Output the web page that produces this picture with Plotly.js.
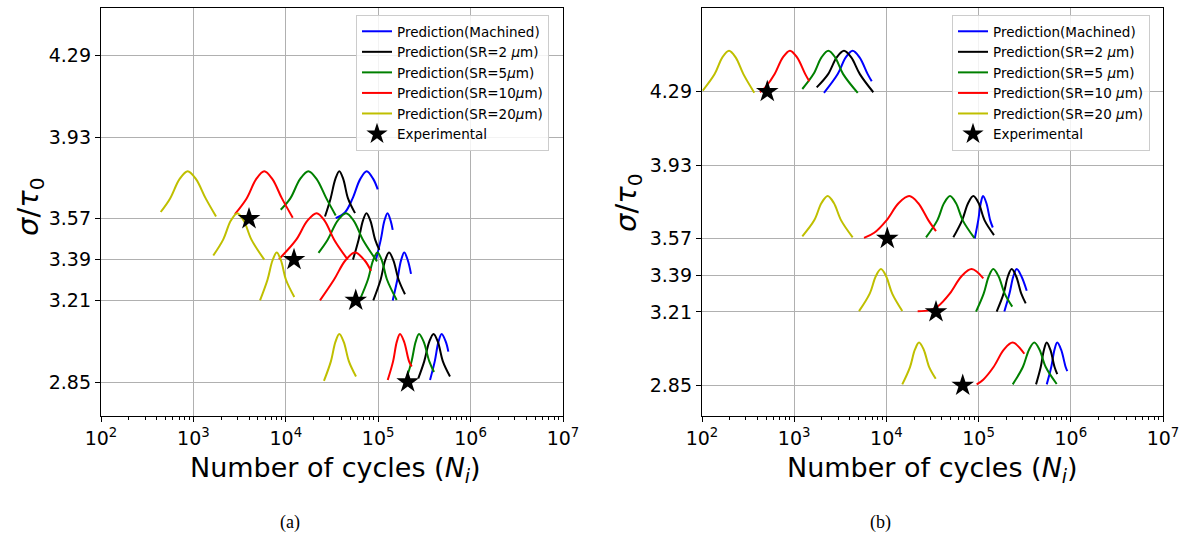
<!DOCTYPE html>
<html>
<head>
<meta charset="utf-8">
<script src="https://cdn.plot.ly/plotly-3.0.1.min.js"></script>
<style>
html,body{margin:0;padding:0;background:#ffffff;}
#chart{width:1186px;height:534px;}
</style>
</head>
<body>
<div id="chart"></div>
<script>
// ---------- DATA (x values stored as log10 of number of cycles, y = sigma/tau0) ----------
const yTickVals = [2.85, 3.21, 3.39, 3.57, 3.93, 4.29];
const yTickText = ['2.85', '3.21', '3.39', '3.57', '3.93', '4.29'];
const xTickVals = [1e2, 1e3, 1e4, 1e5, 1e6, 1e7];
const xTickText = ['10<sup>2</sup>', '10<sup>3</sup>', '10<sup>4</sup>', '10<sup>5</sup>', '10<sup>6</sup>', '10<sup>7</sup>'];

const seriesColors = ['#0000ff', '#000000', '#008000', '#ff0000', '#bfbf00'];
const namesA = ['Prediction(Machined)', 'Prediction(SR=2 <i>μ</i>m)', 'Prediction(SR=5<i>μ</i>m)', 'Prediction(SR=10<i>μ</i>m)', 'Prediction(SR=20<i>μ</i>m)'];
const namesB = ['Prediction(Machined)', 'Prediction(SR=2 <i>μ</i>m)', 'Prediction(SR=5 <i>μ</i>m)', 'Prediction(SR=10 <i>μ</i>m)', 'Prediction(SR=20 <i>μ</i>m)'];

// Panel (a)
const a_machined_log10N = [4.540,4.640,4.723,4.805,4.876,4.947,4.995,null, 4.976,5.028,5.067,5.101,5.135,5.157,null, 5.157,5.207,5.247,5.282,5.321,5.355,null, 5.561,5.612,5.652,5.687,5.732,5.759];
const a_machined_ratio  = [3.573,3.598,3.660,3.745,3.780,3.745,3.700,null, 3.390,3.478,3.561,3.595,3.561,3.521,null, 3.210,3.301,3.386,3.421,3.386,3.327,null, 2.859,2.941,3.027,3.062,3.027,2.984];

const a_sr2_log10N = [4.424,4.485,4.536,4.579,4.622,4.673,4.749,null, 4.727,4.788,4.834,4.873,4.916,4.967,5.012,null, 4.947,5.026,5.075,5.117,5.165,5.221,5.290,null, 5.434,5.498,5.552,5.599,5.646,5.700,5.777];
const a_sr2_ratio  = [3.580,3.660,3.745,3.780,3.745,3.660,3.595,null, 3.390,3.478,3.561,3.595,3.561,3.478,3.433,null, 3.210,3.301,3.386,3.421,3.386,3.301,3.237,null, 2.866,2.941,3.027,3.062,3.027,2.941,2.874];

const a_sr5_log10N = [3.945,4.049,4.154,4.244,4.334,4.439,4.540,null, 4.354,4.453,4.560,4.652,4.736,4.834,4.987,null, 4.798,4.888,4.944,4.992,5.040,5.096,5.200,null, 5.301,5.361,5.405,5.442,5.493,5.553,5.604];
const a_sr5_ratio  = [3.610,3.660,3.745,3.780,3.745,3.660,3.585,null, 3.420,3.478,3.561,3.595,3.561,3.478,3.382,null, 3.210,3.301,3.386,3.421,3.386,3.301,3.212,null, 2.859,2.941,3.027,3.062,3.027,2.941,2.894];

const a_sr10_log10N = [3.450,3.576,3.679,3.767,3.855,3.958,4.075,null, 3.926,4.113,4.232,4.334,4.421,4.523,4.670,null, 4.370,4.521,4.644,4.749,4.854,4.922,null, 5.103,5.161,5.201,5.236,5.281,5.334,5.363];
const a_sr10_ratio  = [3.591,3.660,3.745,3.780,3.745,3.660,3.575,null, 3.392,3.478,3.561,3.595,3.561,3.478,3.390,null, 3.210,3.301,3.386,3.421,3.386,3.340,null, 2.859,2.941,3.027,3.062,3.027,2.941,2.918];

const a_sr20_log10N = [2.646,2.748,2.850,2.938,3.028,3.133,3.245,null, 3.215,3.322,3.404,3.475,3.546,3.628,3.767,null, 3.721,3.802,3.856,3.902,3.948,4.002,4.092,null, 4.413,4.488,4.537,4.579,4.627,4.683,4.760];
const a_sr20_ratio  = [3.600,3.660,3.745,3.780,3.745,3.660,3.580,null, 3.408,3.478,3.561,3.595,3.561,3.478,3.390,null, 3.210,3.301,3.386,3.421,3.386,3.301,3.225,null, 2.855,2.941,3.027,3.062,3.027,2.941,2.874];

const a_exp_log10N = [3.602, 4.089, 4.757, 5.319];
const a_exp_ratio  = [3.57, 3.39, 3.21, 2.85];

// Panel (b)
const b_machined_log10N = [3.323,3.472,3.559,3.634,3.709,3.797,3.841,null, 4.958,4.996,5.024,5.048,5.084,5.126,5.154,null, 5.279,5.335,5.377,5.413,5.464,5.522,null, 5.739,5.788,5.823,5.853,5.895,5.944,5.962];
const b_machined_ratio  = [4.284,4.376,4.458,4.491,4.458,4.376,4.341,null, 3.570,3.659,3.744,3.778,3.744,3.659,3.624,null, 3.212,3.300,3.385,3.420,3.385,3.314,null, 2.855,2.940,3.025,3.060,3.025,2.940,2.920];

const b_sr2_log10N = [3.244,3.368,3.461,3.540,3.619,3.712,3.858,null, 4.726,4.821,4.887,4.943,5.000,5.065,5.167,null, 5.196,5.271,5.318,5.359,5.407,5.463,5.511,null, 5.623,5.674,5.709,5.739,5.778,5.824,5.853];
const b_sr2_ratio  = [4.311,4.376,4.458,4.491,4.458,4.376,4.287,null, 3.576,3.659,3.744,3.778,3.744,3.659,3.587,null, 3.212,3.300,3.385,3.420,3.385,3.300,3.252,null, 2.855,2.940,3.025,3.060,3.025,2.940,2.905];

const b_sr5_log10N = [3.088,3.209,3.296,3.370,3.444,3.531,3.689,null, 4.430,4.552,4.626,4.690,4.754,4.828,4.953,null, 4.972,5.055,5.111,5.159,5.216,5.283,5.365,null, 5.370,5.480,5.547,5.604,5.661,5.728,5.847];
const b_sr5_ratio  = [4.303,4.376,4.458,4.491,4.458,4.376,4.284,null, 3.576,3.659,3.744,3.778,3.744,3.659,3.573,null, 3.212,3.300,3.385,3.420,3.385,3.300,3.236,null, 2.855,2.940,3.025,3.060,3.025,2.940,2.857];

const b_sr10_log10N = [2.629,2.698,2.788,2.877,2.954,3.031,3.120,3.164,null, 3.757,3.868,4.001,4.134,4.248,4.344,4.456,4.538,null, 4.339,4.467,4.559,4.687,4.815,4.925,5.051,null, 4.979,5.050,5.162,5.274,5.370,5.496];
const b_sr10_ratio  = [4.287,4.317,4.376,4.458,4.491,4.458,4.376,4.341,null, 3.573,3.598,3.659,3.744,3.778,3.744,3.659,3.606,null, 3.214,3.219,3.238,3.300,3.385,3.420,3.375,null, 2.855,2.878,2.940,3.025,3.060,3.005];

const b_sr20_log10N = [2.008,2.137,2.221,2.293,2.365,2.449,2.567,null, 3.088,3.217,3.296,3.363,3.430,3.509,3.634,null, 3.703,3.819,3.885,3.941,3.997,4.063,4.172,null, 4.172,4.256,4.309,4.354,4.405,4.464,4.535];
const b_sr20_ratio  = [4.295,4.376,4.458,4.491,4.458,4.376,4.285,null, 3.581,3.659,3.744,3.778,3.744,3.659,3.576,null, 3.214,3.300,3.385,3.420,3.385,3.300,3.215,null, 2.855,2.940,3.025,3.060,3.025,2.940,2.883];

const b_exp_log10N = [2.708, 4.010, 4.538, 4.828];
const b_exp_ratio  = [4.29, 3.57, 3.21, 2.85];

// ---------- BUILD ----------
const toCycles = arr => arr.map(v => v === null ? null : Math.pow(10, v));

const panelA = [[a_machined_log10N, a_machined_ratio], [a_sr2_log10N, a_sr2_ratio], [a_sr5_log10N, a_sr5_ratio], [a_sr10_log10N, a_sr10_ratio], [a_sr20_log10N, a_sr20_ratio]];
const panelB = [[b_machined_log10N, b_machined_ratio], [b_sr2_log10N, b_sr2_ratio], [b_sr5_log10N, b_sr5_ratio], [b_sr10_log10N, b_sr10_ratio], [b_sr20_log10N, b_sr20_ratio]];

const traces = [];
function addPanel(panel, names, expX, expY, xa, ya, leg) {
  panel.forEach((s, i) => {
    traces.push({
      type: 'scatter', mode: 'lines',
      x: toCycles(s[0]), y: s[1],
      xaxis: xa, yaxis: ya, legend: leg,
      name: names[i],
      line: {color: seriesColors[i], width: 2, shape: 'spline', smoothing: 1},
      connectgaps: false
    });
  });
  traces.push({
    type: 'scatter', mode: 'markers',
    x: toCycles(expX), y: expY,
    xaxis: xa, yaxis: ya, legend: leg,
    name: 'Experimental',
    marker: {symbol: 'star', size: 17, color: '#000000', line: {width: 0}}
  });
}
addPanel(panelA, namesA, a_exp_log10N, a_exp_ratio, 'x', 'y', 'legend');
addPanel(panelB, namesB, b_exp_log10N, b_exp_ratio, 'x2', 'y2', 'legend2');

const W = 1186, H = 534;
const yDom = [1 - 416 / H, 1 - 8 / H];

function xAxis(dom, anchor) {
  return {
    domain: dom, anchor: anchor, type: 'log', range: [2, 7],
    tickmode: 'array', tickvals: xTickVals, ticktext: xTickText,
    ticks: 'outside', ticklen: 5, tickwidth: 1, tickcolor: '#000',
    showgrid: true, gridcolor: '#b0b0b0', gridwidth: 1,
    showline: true, linecolor: '#000', linewidth: 1.2, mirror: true,
    zeroline: false,
    tickfont: {family: 'DejaVu Sans', size: 19, color: '#000'},
    minor: {dtick: 'D1', ticks: 'outside', ticklen: 3, tickwidth: 1, tickcolor: '#000', showgrid: false}
  };
}
function yAxis(range, anchor) {
  return {
    domain: yDom, anchor: anchor, range: range,
    tickmode: 'array', tickvals: yTickVals, ticktext: yTickText,
    ticks: 'outside', ticklen: 5, tickwidth: 1, tickcolor: '#000',
    showgrid: true, gridcolor: '#b0b0b0', gridwidth: 1,
    showline: true, linecolor: '#000', linewidth: 1.2, mirror: true,
    zeroline: false,
    tickfont: {family: 'DejaVu Sans', size: 19, color: '#000'}
  };
}
function legendAt(xpx) {
  return {
    x: xpx / W, y: 1 - 15 / H, xanchor: 'left', yanchor: 'top',
    bgcolor: 'rgba(255,255,255,0.85)', bordercolor: '#cccccc', borderwidth: 1,
    font: {family: 'DejaVu Sans', size: 13.5, color: '#000'},
    tracegroupgap: 0
  };
}

const layout = {
  width: W, height: H,
  margin: {l: 0, r: 0, t: 0, b: 0},
  paper_bgcolor: '#ffffff', plot_bgcolor: '#ffffff',
  font: {family: 'DejaVu Sans', color: '#000'},
  showlegend: true,
  xaxis: xAxis([101 / W, 563 / W], 'y'),
  yaxis: yAxis([2.70, 4.50], 'x'),
  xaxis2: xAxis([702 / W, 1163 / W], 'y2'),
  yaxis2: yAxis([2.70, 4.70], 'x2'),
  legend: legendAt(356),
  legend2: legendAt(952),
  annotations: [
    {xref: 'paper', yref: 'paper', x: 335 / W, y: 1 - 469 / H, xanchor: 'center', yanchor: 'middle', showarrow: false,
     text: 'Number of cycles (<i>N<sub>i</sub></i>)', font: {family: 'DejaVu Sans', size: 27, color: '#000'}},
    {xref: 'paper', yref: 'paper', x: 932 / W, y: 1 - 469 / H, xanchor: 'center', yanchor: 'middle', showarrow: false,
     text: 'Number of cycles (<i>N<sub>i</sub></i>)', font: {family: 'DejaVu Sans', size: 27, color: '#000'}},
    {xref: 'paper', yref: 'paper', x: 30 / W, y: 1 - 207 / H, xanchor: 'center', yanchor: 'middle', showarrow: false, textangle: -90,
     text: '<i>σ</i>/<i>τ</i><sub>0</sub>', font: {family: 'DejaVu Sans', size: 29, color: '#000'}},
    {xref: 'paper', yref: 'paper', x: 628 / W, y: 1 - 203 / H, xanchor: 'center', yanchor: 'middle', showarrow: false, textangle: -90,
     text: '<i>σ</i>/<i>τ</i><sub>0</sub>', font: {family: 'DejaVu Sans', size: 29, color: '#000'}},
    {xref: 'paper', yref: 'paper', x: 290 / W, y: 1 - 522 / H, xanchor: 'center', yanchor: 'middle', showarrow: false,
     text: '(a)', font: {family: 'Liberation Serif', size: 18, color: '#000'}},
    {xref: 'paper', yref: 'paper', x: 880 / W, y: 1 - 522 / H, xanchor: 'center', yanchor: 'middle', showarrow: false,
     text: '(b)', font: {family: 'Liberation Serif', size: 18, color: '#000'}}
  ]
};

Plotly.newPlot('chart', traces, layout, {staticPlot: true, displayModeBar: false});
</script>
</body>
</html>
